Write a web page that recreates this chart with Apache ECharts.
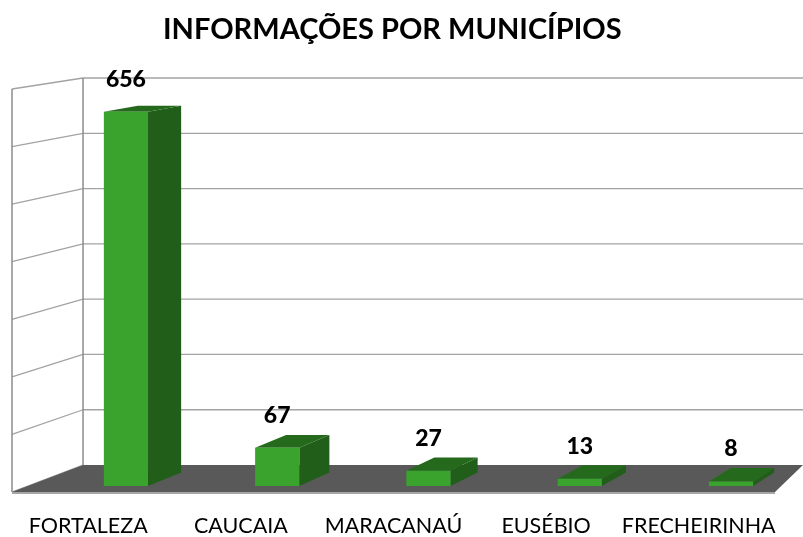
<!DOCTYPE html>
<html>
<head>
<meta charset="utf-8">
<script src="https://cdn.jsdelivr.net/npm/echarts@6/dist/echarts.min.js"></script>
<style>
  html, body { margin: 0; padding: 0; background: #fff; }
  #chart { width: 803px; height: 537px; }
</style>
</head>
<body>
<div id="chart"></div>
<script>
let categories = ['FORTALEZA', 'CAUCAIA', 'MARACANAÚ', 'EUSÉBIO', 'FRECHEIRINHA'];
let values = [656, 67, 27, 13, 8];
let yTicks = [0, 100, 200, 300, 400, 500, 600, 700];

// vanishing point for the fake perspective, and the depth of each plane
// (1 = front edge of the floor, smaller = further back)
let VP = [1806, -189];
let depth = { wall: 0.9604, barFront: 0.9913, barBack: 0.9715 };

function project(x, y, r) {
  return [VP[0] + (x - VP[0]) * r, VP[1] + (y - VP[1]) * r];
}

let lineColor = '#a3a3a3';
let font = 'Lato';

function renderFrame(params, api) {
  let cs = params.coordSys;
  let left = cs.x, right = cs.x + cs.width;
  let children = [];
  // back wall grid + left wall diagonals
  yTicks.forEach(function (t) {
    let p = api.coord([0, t]);
    let front = [left, p[1]];
    let back = project(left, p[1], depth.wall);
    children.push({
      type: 'line', silent: true,
      shape: { x1: front[0], y1: front[1], x2: back[0], y2: back[1] },
      style: { stroke: lineColor, lineWidth: 1.3 }
    });
    if (t > 0) {
      children.push({
        type: 'line', silent: true,
        shape: { x1: back[0], y1: back[1], x2: 803, y2: back[1] },
        style: { stroke: lineColor, lineWidth: 1.3 }
      });
    }
  });
  let topV = api.coord([0, yTicks[yTicks.length - 1]])[1];
  let botV = api.coord([0, 0])[1];
  let bTop = project(left, topV, depth.wall);
  let bBot = project(left, botV, depth.wall);
  children.push({
    type: 'line', silent: true,
    shape: { x1: left, y1: topV, x2: left, y2: botV },
    style: { stroke: '#8c8c8c', lineWidth: 1.5 }
  });
  children.push({
    type: 'line', silent: true,
    shape: { x1: bTop[0], y1: bTop[1], x2: bBot[0], y2: bBot[1] },
    style: { stroke: '#8c8c8c', lineWidth: 1.5 }
  });
  // floor (right edge slants in more steeply than the left one in the original)
  children.push({
    type: 'polygon', silent: true,
    shape: { points: [[left, botV], [right, botV], [right + 28, bBot[1]], [bBot[0], bBot[1]]] },
    style: { fill: '#595959' }
  });
  children.push({
    type: 'line', silent: true,
    shape: { x1: left, y1: botV + 1, x2: right, y2: botV + 1 },
    style: { stroke: '#a6a6a6', lineWidth: 2 }
  });
  return { type: 'group', children: children };
}

function renderBar(params, api) {
  let i = api.value(0);
  let v = api.value(1);
  let band = api.size([1, 0])[0];
  let c = api.coord([i, v]);
  let b = api.coord([i, 0]);
  let cx = c[0] + band * 0.15;
  let hw = band * 0.146;
  let xl = cx - hw, xr = cx + hw, yt = c[1], yb = b[1];
  let f = depth.barFront, k = depth.barBack;
  let ftl = project(xl, yt, f), ftr = project(xr, yt, f);
  let fbl = project(xl, yb, f), fbr = project(xr, yb, f);
  let ktl = project(xl, yt, k), ktr = project(xr, yt, k), kbr = project(xr, yb, k);
  return {
    type: 'group',
    children: [
      { type: 'polygon', shape: { points: [ftr, ktr, kbr, fbr] },
        style: { fill: '#215e19' } },
      { type: 'polygon', shape: { points: [ftl, ftr, ktr, ktl] },
        style: { fill: '#256a1c' } },
      { type: 'polygon', shape: { points: [ftl, ftr, fbr, fbl] },
        style: { fill: '#3aa32d' } },
      // label sits a fixed distance above the front top edge
      { type: 'text', style: {
          text: String(v), x: (ftl[0] + ftr[0]) / 2, y: ftl[1] - 21,
          align: 'center', verticalAlign: 'bottom',
          fill: '#000', fontFamily: font, fontWeight: 900, fontSize: 23 } }
    ]
  };
}

let chart = echarts.init(document.getElementById('chart'));
chart.setOption({
  animation: false,
  title: {
    text: 'INFORMAÇÕES POR MUNICÍPIOS',
    left: 158, top: 10,
    textStyle: { fontFamily: font, fontWeight: 'bold', fontSize: 29, color: '#000' }
  },
  grid: { left: 12, right: 28, top: 89, bottom: 44 },
  xAxis: {
    type: 'category',
    data: categories,
    axisLine: { show: false },
    axisTick: { show: false },
    axisLabel: { interval: 0, margin: 23, fontFamily: font, fontSize: 21.5, color: '#000' }
  },
  yAxis: {
    type: 'value', min: 0, max: 700, interval: 100,
    axisLine: { show: false }, axisTick: { show: false },
    axisLabel: { show: false }, splitLine: { show: false }
  },
  series: [
    { type: 'custom', renderItem: renderFrame, data: [[0, 0]], silent: true, z: 1 },
    { type: 'custom', renderItem: renderBar, z: 2,
      data: values.map(function (v, i) { return [i, v]; }) }
  ]
});
</script>
</body>
</html>
